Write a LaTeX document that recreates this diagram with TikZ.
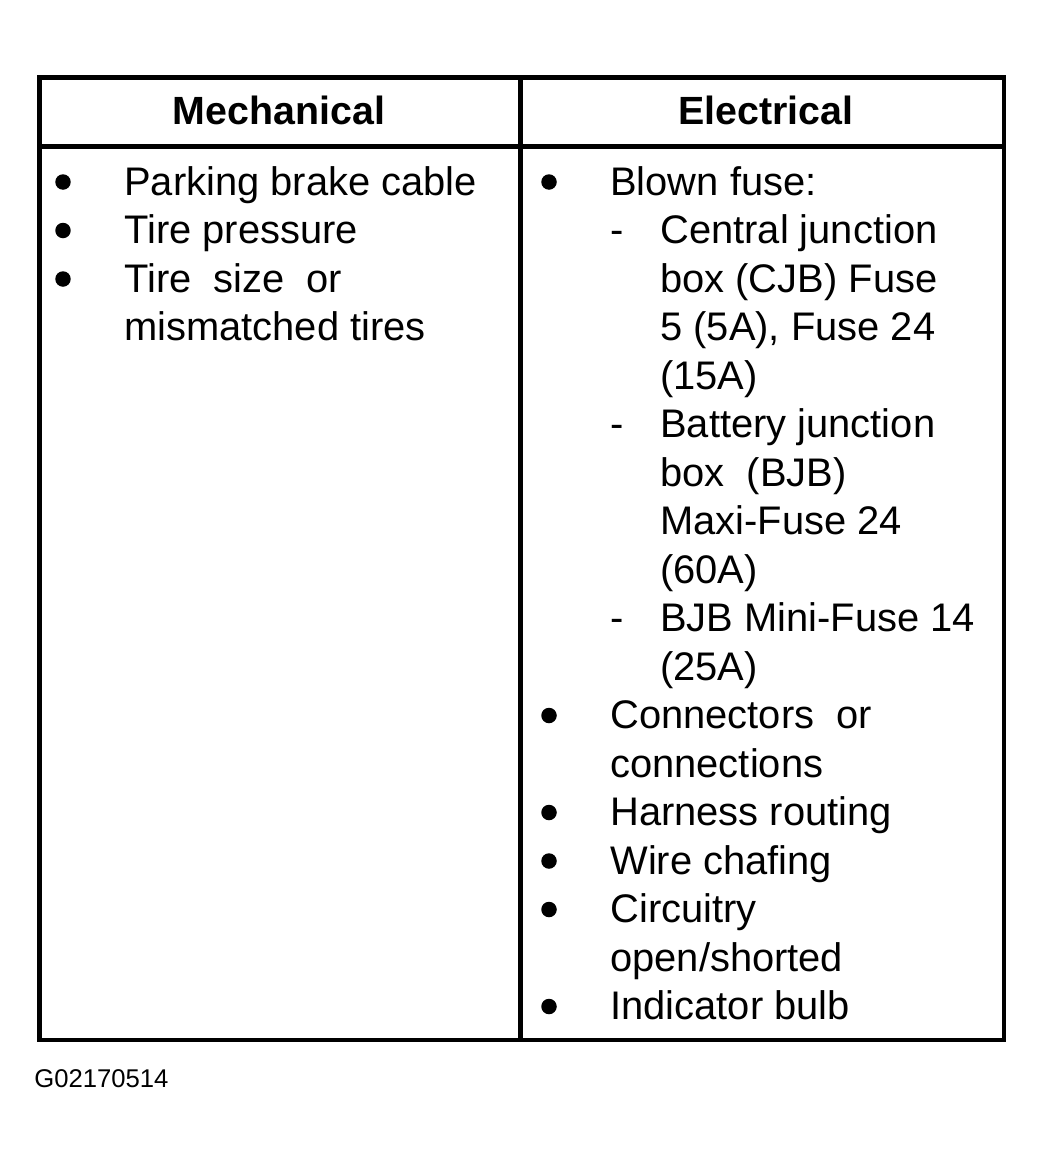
\documentclass[tikz,border=0pt]{standalone}
\usepackage{fontspec}
\setmainfont{Liberation Sans}
\usepackage{tikz}
\usetikzlibrary{positioning}

\begin{document}
\begin{tikzpicture}[x=0.02cm,y=-0.02cm,
	txt/.style={anchor=base west,inner sep=0pt,font=\fontsize{22.7}{27.5}\selectfont},
	head/.style={anchor=base,inner sep=0pt,font=\fontsize{22.4}{27.5}\selectfont\bfseries},
	dot/.style={circle,fill=black,inner sep=0pt,minimum size=0.31cm},
	rule/.style={line width=2.6pt}]
			\useasboundingbox (0,0) rectangle (1044,1163);
			% table frame
			\coordinate (tl) at (39.5,77.5);
			\coordinate (br) at (1004,1040);
			\coordinate (hl) at (39.5,146.5);
			\coordinate (hr) at (1004,146.5);
			\coordinate (mt) at (520.5,77.5);
			\coordinate (mb) at (520.5,1040);
			\draw[rule] (tl) rectangle (br);
			\draw[rule] (hl) -- (hr);
			\draw[rule] (mt) -- (mb);
			\node[head] (mech) at (279,124) {Mechanical};
			\node[head] (elec) at (766,124) {Electrical};
			% mechanical column
			\node[dot] (ma) at (63,182) {};
			\node[dot] (mb1) at (63,230.5) {};
			\node[dot] (mc) at (63,279) {};
			\node[txt] (m1) at (124,195) {Parking brake cable};
			\node[txt] (m2) at (124,243.5) {Tire pressure};
			\node[txt] (m3) at (124,292) {Tire\ \ size\ \ or};
			\node[txt] (m4) at (124,340.5) {mismatched tires};
			% electrical column
			\node[dot] (ea) at (549,182) {};
			\node[txt] (e1) at (610,195) {Blown fuse:};
			\node[txt] (da) at (610,243.5) {-};
			\node[txt] (e2) at (660,243.5) {Central junction};
			\node[txt] (e3) at (660,292) {box (CJB) Fuse};
			\node[txt] (e4) at (660,340.5) {5 (5A), Fuse 24};
			\node[txt] (e5) at (660,389) {(15A)};
			\node[txt] (db) at (610,437.5) {-};
			\node[txt] (e6) at (660,437.5) {Battery junction};
			\node[txt] (e7) at (660,486) {box\ \ (BJB)};
			\node[txt] (e8) at (660,534.5) {Maxi-Fuse 24};
			\node[txt] (e9) at (660,583) {(60A)};
			\node[txt] (dc) at (610,631.5) {-};
			\node[txt] (e10) at (660,631.5) {BJB Mini-Fuse 14};
			\node[txt] (e11) at (660,680) {(25A)};
			\node[dot] (eb) at (549,715.5) {};
			\node[txt] (e12) at (610,728.5) {Connectors\ \ or};
			\node[txt] (e13) at (610,777) {connections};
			\node[dot] (ec) at (549,812.5) {};
			\node[txt] (e14) at (610,825.5) {Harness routing};
			\node[dot] (ed) at (549,861) {};
			\node[txt] (e15) at (610,874) {Wire chafing};
			\node[dot] (ee) at (549,909.5) {};
			\node[txt] (e16) at (610,922.5) {Circuitry};
			\node[txt] (e17) at (610,971) {open/shorted};
			\node[dot] (ef) at (549,1006.5) {};
			\node[txt] (e18) at (610,1019.5) {Indicator bulb};
			% figure number
			\node[txt,font=\fontsize{14.6}{17}\selectfont] (fig) at (34,1087) {G02170514};
		\end{tikzpicture}
\end{document}
